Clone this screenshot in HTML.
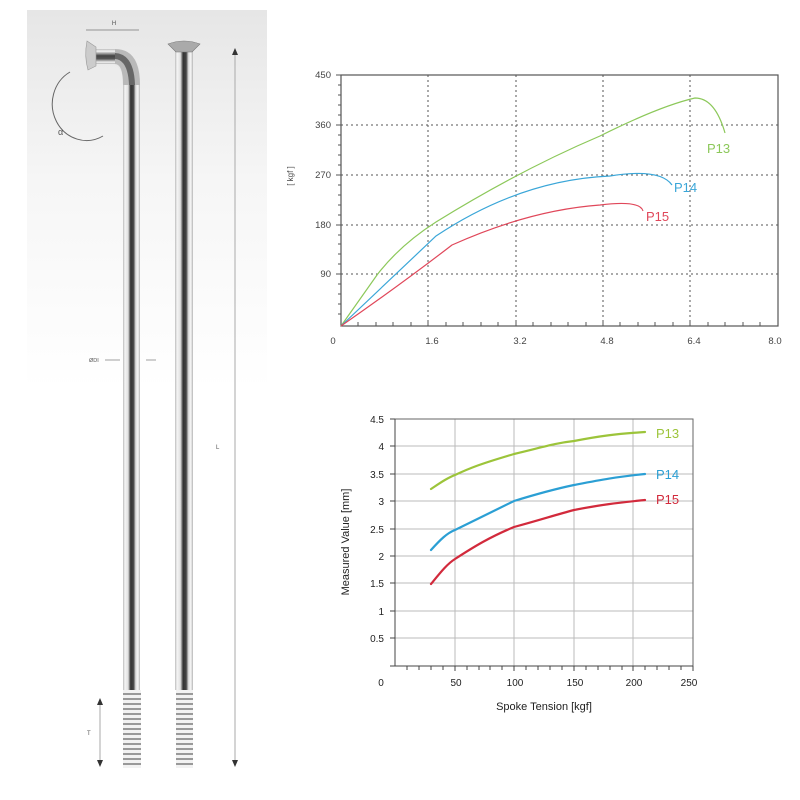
<!DOCTYPE html>
<html><head><meta charset="utf-8"><style>
html,body{margin:0;padding:0;background:#fff;}
svg{display:block;font-family:"Liberation Sans",Arial,sans-serif;}
</style></head><body>
<svg width="800" height="800" viewBox="0 0 800 800" xmlns="http://www.w3.org/2000/svg">
<defs>
<linearGradient id="bg" x1="0" y1="0" x2="0" y2="1">
<stop offset="0" stop-color="#e6e6e6"/><stop offset="0.45" stop-color="#f6f6f6"/><stop offset="1" stop-color="#ffffff"/>
</linearGradient>
<linearGradient id="rod" x1="0" y1="0" x2="1" y2="0">
<stop offset="0" stop-color="#bdbdbd"/><stop offset="0.12" stop-color="#f4f4f4"/><stop offset="0.3" stop-color="#e0e0e0"/>
<stop offset="0.45" stop-color="#333"/><stop offset="0.62" stop-color="#444"/><stop offset="0.75" stop-color="#ddd"/>
<stop offset="0.88" stop-color="#f5f5f5"/><stop offset="1" stop-color="#b5b5b5"/>
</linearGradient>
<linearGradient id="rodh" x1="0" y1="0" x2="0" y2="1">
<stop offset="0" stop-color="#bdbdbd"/><stop offset="0.15" stop-color="#f4f4f4"/>
<stop offset="0.45" stop-color="#444"/><stop offset="0.65" stop-color="#555"/>
<stop offset="0.88" stop-color="#f0f0f0"/><stop offset="1" stop-color="#b5b5b5"/>
</linearGradient>
<pattern id="thr" x="0" y="0" width="20" height="5" patternUnits="userSpaceOnUse">
<rect width="20" height="5" fill="#f2f2f2"/><rect y="3" width="20" height="2" fill="#999"/>
</pattern>
</defs>
<rect x="27" y="10" width="240" height="380" fill="url(#bg)"/>
<text x="114" y="25" font-size="6" fill="#555" text-anchor="middle">H</text>
<line x1="86" y1="30" x2="139" y2="30" stroke="#777" stroke-width="0.8"/>
<path d="M70 72 A30 32 0 0 0 103 136" fill="none" stroke="#666" stroke-width="1"/>
<text x="58" y="135" font-size="9" fill="#555">α</text>
<path d="M95 49 L112 49 Q140 49 140 80 L140 690 L123 690 L123 84 Q123 64 110 64 L95 64 Z" fill="#e8e8e8"/>
<rect x="123" y="85" width="17" height="605" fill="url(#rod)"/>
<rect x="95" y="49" width="20" height="15" fill="url(#rodh)"/>
<path d="M115 49 Q140 49 140 85 L123 85 Q123 64 115 64 Z" fill="#999" opacity="0.6"/>
<path d="M115 53 Q134 54 135 85 L129 85 Q128 60 115 59 Z" fill="#444" opacity="0.7"/>
<path d="M87 41 L96 47 L96 66 L88 70 Q84 56 87 41Z" fill="#ccc" stroke="#999" stroke-width="0.6"/>
<rect x="123" y="690" width="18" height="78" fill="url(#thr)"/>
<rect x="175" y="50" width="18" height="640" fill="url(#rod)"/>
<path d="M168 44 Q184 38 200 44 L192 52 L176 52 Z" fill="#aaa" stroke="#777" stroke-width="0.6"/>
<rect x="176" y="690" width="17" height="78" fill="url(#thr)"/>
<text x="89" y="362" font-size="5.5" fill="#555">ØDI</text>
<line x1="105" y1="360" x2="120" y2="360" stroke="#777" stroke-width="0.7"/>
<line x1="146" y1="360" x2="156" y2="360" stroke="#777" stroke-width="0.7"/>
<line x1="235" y1="52" x2="235" y2="765" stroke="#aaa" stroke-width="1"/>
<path d="M232 55 L235 48 L238 55Z" fill="#333"/>
<path d="M232 760 L235 767 L238 760Z" fill="#333"/>
<text x="216" y="449" font-size="6" fill="#555">L</text>
<line x1="100" y1="700" x2="100" y2="765" stroke="#aaa" stroke-width="1"/>
<path d="M97 705 L100 698 L103 705Z" fill="#333"/>
<path d="M97 760 L100 767 L103 760Z" fill="#333"/>
<text x="87" y="735" font-size="6" fill="#555">T</text>

<!-- TOP CHART -->
<g stroke="#555" stroke-width="1" stroke-dasharray="2,3">
<line x1="341" y1="125" x2="778" y2="125"/><line x1="341" y1="175" x2="778" y2="175"/>
<line x1="341" y1="225" x2="778" y2="225"/><line x1="341" y1="274" x2="778" y2="274"/>
<line x1="428" y1="75" x2="428" y2="326"/><line x1="516" y1="75" x2="516" y2="326"/>
<line x1="603" y1="75" x2="603" y2="326"/><line x1="690" y1="75" x2="690" y2="326"/>
</g>
<rect x="341" y="75" width="437" height="251" fill="none" stroke="#555" stroke-width="1.2"/>
<g stroke="#555" stroke-width="1" fill="none">
<path d="M341 75h-5M341 125h-5M341 175h-5M341 225h-5M341 274h-5"/>
<path d="M341 85h-3M341 95h-3M341 105h-3M341 115h-3M341 135h-3M341 145h-3M341 155h-3M341 165h-3M341 185h-3M341 195h-3M341 205h-3M341 215h-3M341 235h-3M341 244h-3M341 254h-3M341 264h-3M341 284h-3M341 294h-3M341 304h-3M341 314h-3"/>
<path d="M358 326v-4M376 326v-4M393 326v-4M411 326v-4M428 326v-5M446 326v-4M463 326v-4M481 326v-4M498 326v-4M516 326v-5M533 326v-4M551 326v-4M568 326v-4M586 326v-4M603 326v-5M620 326v-4M638 326v-4M655 326v-4M673 326v-4M690 326v-5M708 326v-4M725 326v-4M743 326v-4M760 326v-4"/>
</g>
<g font-size="9.5" fill="#444" text-anchor="end">
<text x="331" y="78">450</text><text x="331" y="128">360</text><text x="331" y="178">270</text><text x="331" y="228">180</text><text x="331" y="277">90</text>
</g>
<g font-size="9.5" fill="#444" text-anchor="middle">
<text x="333" y="344">0</text><text x="432" y="344">1.6</text><text x="520" y="344">3.2</text><text x="607" y="344">4.8</text><text x="694" y="344">6.4</text><text x="775" y="344">8.0</text>
</g>
<text transform="translate(293,176) rotate(-90)" font-size="8" fill="#444" text-anchor="middle">[ kgf ]</text>
<g fill="none" stroke-width="1.2">
<path d="M341 326 L377 275 Q400 245 436 222 Q520 170 600 136 Q660 106 695 98 Q715 98 725 133" stroke="#8cc85a"/>
<path d="M341 326 Q400 270 436 236 Q520 180 610 176 Q660 168 672 185" stroke="#3aa6d8"/>
<path d="M341 326 Q400 285 452 245 Q530 210 600 205 Q640 200 643 211" stroke="#e0475a"/>
</g>
<text x="707" y="153" font-size="13" fill="#8cc85a">P13</text>
<text x="674" y="192" font-size="13" fill="#3aa6d8">P14</text>
<text x="646" y="221" font-size="13" fill="#e0475a">P15</text>

<!-- BOTTOM CHART -->
<g stroke="#bbb" stroke-width="1" fill="none">
<path d="M395 419H693M395 446H693M395 474H693M395 501H693M395 529H693M395 556H693M395 583H693M395 611H693M395 638H693"/>
<path d="M455 419V666M514 419V666M574 419V666M633 419V666"/>
</g>
<rect x="395" y="419" width="298" height="247" fill="none" stroke="#666" stroke-width="1"/>
<g stroke="#444" stroke-width="1" fill="none">
<path d="M395 419v247h298"/>
<path d="M407 666v4M419 666v4M431 666v4M443 666v4M455 666v5M467 666v4M479 666v4M490 666v4M502 666v4M514 666v5M526 666v4M538 666v4M550 666v4M562 666v4M574 666v5M586 666v4M598 666v4M610 666v4M622 666v4M633 666v5M645 666v4M657 666v4M669 666v4M681 666v4M693 666v5"/>
<path d="M395 419h-5M395 446h-5M395 474h-5M395 501h-5M395 529h-5M395 556h-5M395 583h-5M395 611h-5M395 638h-5M395 666h-5"/>
</g>
<g font-size="10" fill="#222" text-anchor="end">
<text x="384" y="423">4.5</text><text x="384" y="450">4</text><text x="384" y="478">3.5</text><text x="384" y="505">3</text><text x="384" y="533">2.5</text><text x="384" y="560">2</text><text x="384" y="587">1.5</text><text x="384" y="615">1</text><text x="384" y="642">0.5</text>
</g>
<g font-size="10" fill="#222" text-anchor="middle">
<text x="381" y="686">0</text><text x="456" y="686">50</text><text x="515" y="686">100</text><text x="575" y="686">150</text><text x="634" y="686">200</text><text x="689" y="686">250</text>
</g>
<text x="544" y="710" font-size="11" fill="#222" text-anchor="middle">Spoke Tension [kgf]</text>
<text transform="translate(349,542) rotate(-90)" font-size="11" fill="#222" text-anchor="middle">Measured Value [mm]</text>
<g fill="none" stroke-width="2.2" stroke-linecap="round">
<path d="M431 489 C440 483 447 478 455 475 C470 468 480 464 514 454 C540 448 555 443 574 441 C600 436 615 434 645 432" stroke="#9cc43a"/>
<path d="M431 550 C440 540 447 533 455 530 C475 520 490 513 514 501 C540 493 555 489 574 485 C600 480 615 477 645 474" stroke="#2b9fd4"/>
<path d="M431 584 C440 573 447 564 455 559 C475 546 490 537 514 527 C540 520 555 515 574 510 C600 505 615 503 645 500" stroke="#d22a3c"/>
</g>
<text x="656" y="438" font-size="13" fill="#9cc43a">P13</text>
<text x="656" y="479" font-size="13" fill="#2b9fd4">P14</text>
<text x="656" y="504" font-size="13" fill="#d22a3c">P15</text>
</svg>
</body></html>
